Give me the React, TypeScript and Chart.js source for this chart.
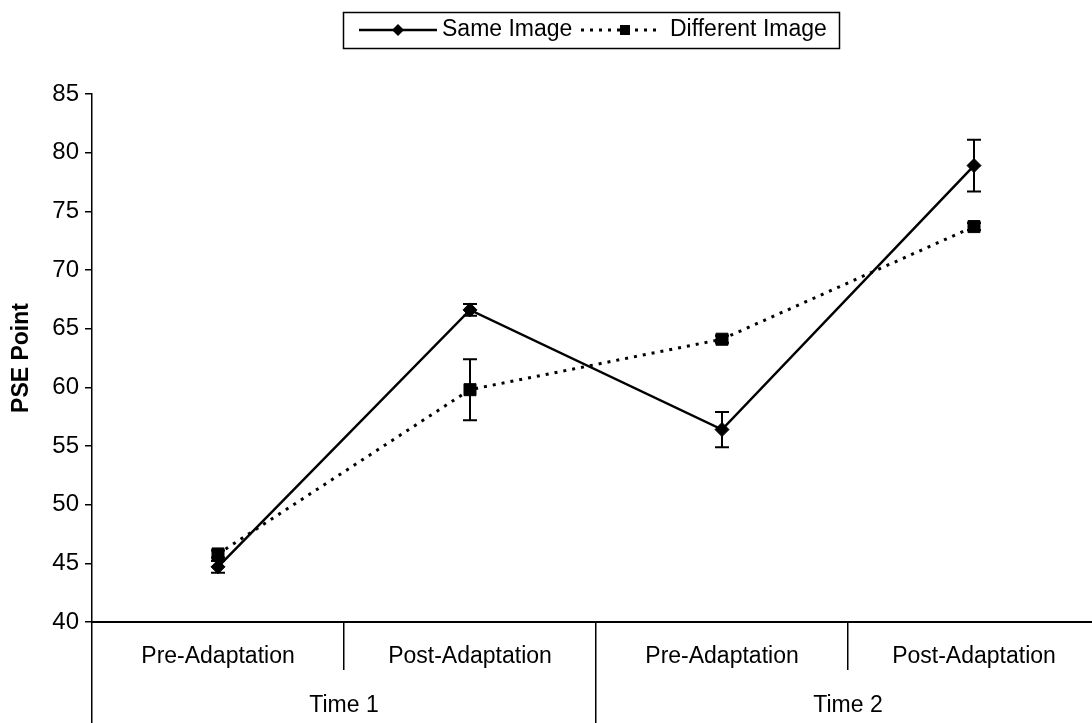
import React, { useEffect, useRef } from 'react';
import { Chart, registerables } from 'chart.js';

Chart.register(...registerables);

const subCategories = ['Pre-Adaptation', 'Post-Adaptation', 'Pre-Adaptation', 'Post-Adaptation'];
const groupCategories = ['Time 1', 'Time 2'];
const seriesNames = ['Same Image', 'Different Image'];
const sameImage = [44.7, 66.6, 56.4, 78.9];
const sameImageErr = [0.5, 0.5, 1.5, 2.2];
const differentImage = [45.8, 59.8, 64.1, 73.7];
const differentImageErr = [0.3, 2.6, 0.3, 0.3];
const yMin = 40;
const yMax = 85;
const yStep = 5;

const FONT = "'Liberation Sans', Arial, sans-serif";

const errorBarPlugin = {
  id: 'errorBars',
  afterDatasetsDraw(chart: any) {
    const { ctx } = chart;
    const y = chart.scales.y;
    chart.data.datasets.forEach((ds: any, i: number) => {
      const meta = chart.getDatasetMeta(i);
      meta.data.forEach((pt: any, j: number) => {
        const v = ds.data[j];
        const e = ds.errors[j];
        const yt = y.getPixelForValue(v + e);
        const yb = y.getPixelForValue(v - e);
        const x = pt.x;
        ctx.save();
        ctx.strokeStyle = '#000';
        ctx.lineWidth = 2;
        ctx.setLineDash([]);
        ctx.beginPath();
        ctx.moveTo(x, yt);
        ctx.lineTo(x, yb);
        ctx.moveTo(x - 7, yt);
        ctx.lineTo(x + 7, yt);
        ctx.moveTo(x - 7, yb);
        ctx.lineTo(x + 7, yb);
        ctx.stroke();
        ctx.restore();
      });
    });
  },
};

const legendPlugin = {
  id: 'boxLegend',
  afterDraw(chart: any) {
    const { ctx } = chart;
    const ds = chart.data.datasets;
    ctx.save();
    ctx.strokeStyle = '#000';
    ctx.lineWidth = 1.5;
    ctx.setLineDash([]);
    ctx.strokeRect(343.5, 12.5, 496, 36);
    const cy = 30;
    const entries = [
      { x0: 359, x1: 437, mx: 398, tx: 442 },
      { x0: 581, x1: 662, mx: 625, tx: 670 },
    ];
    entries.forEach((en, i) => {
      const d = ds[i];
      ctx.strokeStyle = '#000';
      ctx.lineWidth = d.borderWidth;
      ctx.setLineDash(d.borderDash || []);
      ctx.beginPath();
      ctx.moveTo(en.x0, cy);
      ctx.lineTo(en.x1, cy);
      ctx.stroke();
      ctx.setLineDash([]);
      ctx.fillStyle = '#000';
      ctx.beginPath();
      if (d.pointStyle === 'rectRot') {
        const r = 6;
        ctx.moveTo(en.mx - r, cy);
        ctx.lineTo(en.mx, cy - r);
        ctx.lineTo(en.mx + r, cy);
        ctx.lineTo(en.mx, cy + r);
        ctx.closePath();
      } else {
        ctx.rect(en.mx - 5, cy - 5, 10, 10);
      }
      ctx.fill();
      ctx.font = `23px ${FONT}`;
      ctx.textBaseline = 'middle';
      ctx.textAlign = 'left';
      ctx.fillText(d.label, en.tx, cy);
    });
    ctx.restore();
  },
};

export default function App() {
  const ref = useRef<HTMLCanvasElement>(null);
  useEffect(() => {
    if (!ref.current) return;
    const chart = new Chart(ref.current, {
      type: 'line',
      data: {
        labels: subCategories,
        datasets: [
          {
            label: seriesNames[0],
            data: sameImage,
            errors: sameImageErr,
            borderColor: '#000',
            backgroundColor: '#000',
            borderWidth: 2.5,
            pointStyle: 'rectRot',
            pointRadius: 7,
            pointBorderWidth: 1,
            xAxisID: 'x',
            yAxisID: 'y',
          } as any,
          {
            label: seriesNames[1],
            data: differentImage,
            errors: differentImageErr,
            borderColor: '#000',
            backgroundColor: '#000',
            borderWidth: 3,
            borderDash: [3, 6],
            pointStyle: 'rect',
            pointRadius: 8.5,
            pointBorderWidth: 1,
            xAxisID: 'x',
            yAxisID: 'y',
          } as any,
        ],
      },
      options: {
        responsive: false,
        animation: false,
        events: [],
        layout: { padding: { top: 94, left: 0, right: 10, bottom: 0 } },
        plugins: { legend: { display: false }, tooltip: { enabled: false } },
        scales: {
          x: {
            type: 'category',
            position: 'bottom',
            offset: true,
            grid: { offset: true, drawOnChartArea: false, tickLength: 48, color: '#000', lineWidth: 1.5 },
            border: { color: '#000', width: 2 },
            ticks: { color: '#000', font: { family: FONT, size: 23 }, padding: -27, maxRotation: 0, autoSkip: false },
            afterFit: (s: any) => { s.height = 48; },
          },
          x2: {
            type: 'category',
            position: 'bottom',
            labels: groupCategories,
            offset: true,
            grid: { offset: true, drawOnChartArea: false, tickLength: 80, color: '#000', lineWidth: 1.5 },
            border: { display: false },
            ticks: { color: '#000', font: { family: FONT, size: 23 }, padding: -58, maxRotation: 0, autoSkip: false },
            afterFit: (s: any) => { s.height = 70; },
          },
          y: {
            min: yMin,
            max: yMax,
            ticks: { stepSize: yStep, color: '#000', font: { family: FONT, size: 24 }, padding: 6 },
            grid: { drawOnChartArea: false, tickLength: 7, color: '#000', lineWidth: 1.5 },
            border: { color: '#000', width: 1.5 },
            title: {
              display: true,
              text: 'PSE Point',
              color: '#000',
              font: { family: FONT, size: 23, weight: 'bold' },
              padding: { top: 8, bottom: 0 },
            },
            afterFit: (s: any) => { s.width = 92; },
          },
        },
      } as any,
      plugins: [errorBarPlugin, legendPlugin],
    });
    return () => chart.destroy();
  }, []);

  return (
    <div style={{ position: 'fixed', left: 0, top: 0, width: 1092, height: 723, overflow: 'hidden', background: '#fff' }}>
      <canvas ref={ref} width={1110} height={740} style={{ display: 'block' }} />
    </div>
  );
}
